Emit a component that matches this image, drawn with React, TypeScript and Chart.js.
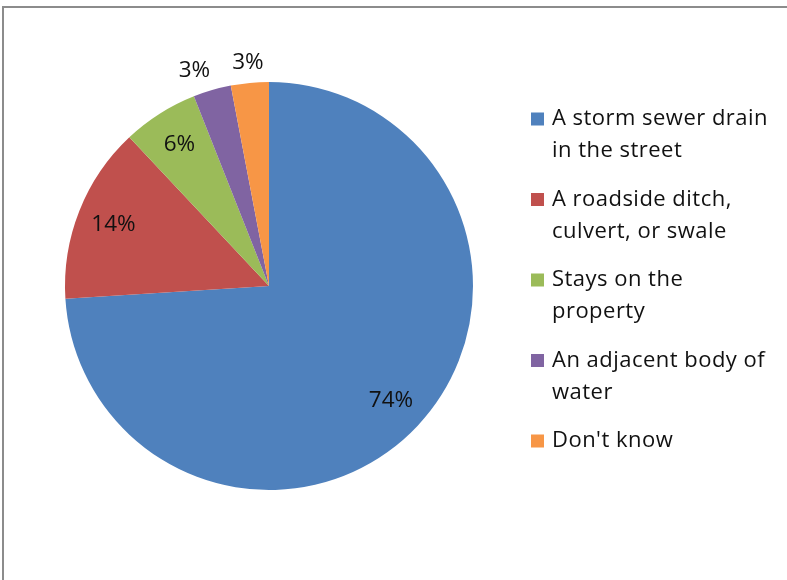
import React, { useEffect, useRef } from "react";
import { Chart, registerables } from "chart.js";

Chart.register(...registerables);

const categories: string[][] = [
  ["A storm sewer drain", "in the street"],
  ["A roadside ditch,", "culvert, or swale"],
  ["Stays on the", "property"],
  ["An adjacent body of", "water"],
  ["Don't know"],
];
const values: number[] = [74, 14, 6, 3, 3];
const colors: string[] = ["#4F81BD", "#C0504D", "#9BBB59", "#8064A2", "#F79646"];

const FONT = "'Open Sans', Lato, sans-serif";

const framePlugin = {
  id: "frame",
  beforeDraw(chart: any) {
    const ctx = chart.ctx;
    ctx.save();
    ctx.fillStyle = "#ffffff";
    ctx.fillRect(0, 0, chart.width, chart.height);
    ctx.strokeStyle = "#8c8c8c";
    ctx.lineWidth = 2;
    ctx.beginPath();
    ctx.moveTo(3, chart.height);
    ctx.lineTo(3, 7);
    ctx.lineTo(chart.width, 7);
    ctx.stroke();
    ctx.restore();
  },
};

const labelPlugin = {
  id: "pieLabels",
  afterDatasetsDraw(chart: any) {
    const ctx = chart.ctx;
    const meta = chart.getDatasetMeta(0);
    const total = values.reduce((a, b) => a + b, 0);
    ctx.save();
    ctx.font = `22.5px ${FONT}`;
    ctx.fillStyle = "#111111";
    ctx.textAlign = "center";
    ctx.textBaseline = "middle";
    const items = meta.data.map((arc: any, i: number) => {
      const p = arc.getProps(["x", "y", "startAngle", "endAngle", "outerRadius"], true);
      const mid = (p.startAngle + p.endAngle) / 2;
      const outside = values[i] / total < 0.05;
      const r = p.outerRadius * (outside ? 1.1 : 0.82);
      const text = `${values[i]}%`;
      return {
        text,
        outside,
        x: p.x + Math.cos(mid) * r,
        y: p.y + Math.sin(mid) * r,
        w: ctx.measureText(text).width,
      };
    });
    // avoid crowding of outside labels: push earlier ones leftward
    const minGap = 22;
    for (let i = items.length - 2; i >= 0; i--) {
      const a = items[i];
      const b = items[i + 1];
      if (a.outside && b.outside) {
        const maxX = b.x - b.w / 2 - minGap - a.w / 2;
        if (a.x > maxX) a.x = maxX;
      }
    }
    items.forEach((it: any) => ctx.fillText(it.text, it.x, it.y));
    ctx.restore();
  },
};

const legendPlugin = {
  id: "sideLegend",
  afterDraw(chart: any) {
    const ctx = chart.ctx;
    ctx.save();
    ctx.font = `22px ${FONT}`;
    ctx.textBaseline = "middle";
    ctx.textAlign = "left";
    // match the wide advance of the original legend font
    const ref = categories[0][0];
    const targetW = 216;
    const w0 = ctx.measureText(ref).width;
    const spacing = Math.max(0, Math.min(1.2, (targetW - w0) / ref.length));
    if ("letterSpacing" in ctx) (ctx as any).letterSpacing = `${spacing}px`;
    const boxX = 531;
    const textX = 552;
    const firstY = 119;
    const itemStep = 80.5;
    const lineStep = 32;
    categories.forEach((lines, i) => {
      const cy = firstY + i * itemStep;
      ctx.fillStyle = colors[i];
      ctx.fillRect(boxX, cy - 6.5, 13, 13);
      ctx.fillStyle = "#111111";
      lines.forEach((ln, j) => ctx.fillText(ln, textX, cy + j * lineStep));
    });
    ctx.restore();
  },
};

export default function App() {
  const ref = useRef<HTMLCanvasElement>(null);
  useEffect(() => {
    document.body.style.margin = "0";
    const chart = new Chart(ref.current as HTMLCanvasElement, {
      type: "pie",
      data: {
        labels: categories.map((c) => c.join(" ")),
        datasets: [
          {
            data: values,
            backgroundColor: colors,
            borderWidth: 0,
            hoverOffset: 0,
            offset: 0,
          },
        ],
      },
      options: {
        responsive: false,
        animation: false,
        events: [],
        layout: { padding: { left: 65, top: 82, right: 314, bottom: 90 } },
        plugins: {
          legend: { display: false },
          tooltip: { enabled: false },
        },
      },
      plugins: [framePlugin, labelPlugin, legendPlugin],
    } as any);
    return () => chart.destroy();
  }, []);
  return (
    <canvas ref={ref} width={787} height={580} style={{ display: "block" }} />
  );
}
